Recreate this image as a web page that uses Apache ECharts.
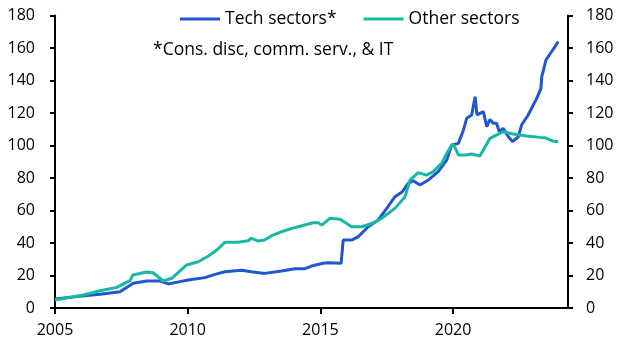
<!DOCTYPE html>
<html>
<head>
<meta charset="utf-8">
<script src="https://cdn.jsdelivr.net/npm/echarts@6/dist/echarts.min.js"></script>
<style>
  html, body { margin: 0; padding: 0; background: #fff; }
  #chart { width: 627px; height: 354px; }
</style>
</head>
<body>
<div id="chart"></div>
<script>
// x values are decimal years
const techYears = [
  2005.0, 2005.8, 2006.7, 2007.45, 2007.95, 2008.45, 2008.96, 2009.27, 2009.52, 2010.02,
  2010.65, 2011.03, 2011.4, 2012.03, 2012.4, 2012.9, 2013.54, 2014.04, 2014.42, 2014.67,
  2015.1, 2015.3, 2015.78, 2015.86, 2016.18, 2016.43, 2016.8, 2017.18, 2017.5, 2017.81,
  2018.09, 2018.31, 2018.5, 2018.75, 2019.07, 2019.44, 2019.76, 2019.95, 2020.2, 2020.39,
  2020.51, 2020.7, 2020.83, 2020.9, 2021.14, 2021.27, 2021.39, 2021.51, 2021.64, 2021.74,
  2021.89, 2022.08, 2022.24, 2022.46, 2022.58, 2022.83, 2023.15, 2023.31, 2023.34, 2023.5,
  2023.65, 2023.84, 2023.96
];
const techValues = [
  5.5, 7, 8.4, 10, 15.2, 16.6, 16.6, 14.8, 15.6, 17.2,
  18.7, 20.7, 22.3, 23.2, 22.3, 21.3, 22.8, 24.2, 24.2, 25.8,
  27.5, 27.9, 27.5, 41.8, 41.8, 43.9, 50, 54.2, 61.3, 68.5,
  71.6, 76.7, 78.3, 75.7, 78.8, 83.9, 91, 100.3, 101.3, 109.5,
  116.7, 118.8, 130, 118.8, 120.8, 111.6, 116.1, 113.7, 113.7, 108.5,
  110.6, 105.4, 102.4, 105.4, 112.6, 118.8, 129, 135.2, 142.3, 152.6,
  156.3, 160.8, 163.9
];

const otherYears = [
  2005.0, 2006.07, 2006.7, 2007.32, 2007.83, 2007.93, 2008.45, 2008.7, 2009.08, 2009.4,
  2009.96, 2010.4, 2010.78, 2011.1, 2011.4, 2011.9, 2012.28, 2012.4, 2012.66, 2012.9,
  2013.16, 2013.48, 2013.92, 2014.3, 2014.73, 2014.92, 2015.05, 2015.36, 2015.74, 2016.18,
  2016.56, 2016.93, 2017.31, 2017.81, 2018.19, 2018.38, 2018.69, 2019.0, 2019.25, 2019.57,
  2019.76, 2019.95, 2020.03, 2020.2, 2020.51, 2020.7, 2021.01, 2021.39, 2021.89, 2022.27,
  2022.77, 2023.27, 2023.46, 2023.65, 2023.84, 2023.96
];
const otherValues = [
  4.9, 8, 10.6, 12.7, 16.8, 20.3, 22.2, 21.7, 16.6, 18.3,
  26.5, 28.5, 32, 35.7, 40.4, 40.4, 41.4, 42.9, 41.2, 41.8,
  44.5, 46.6, 49, 50.6, 52.5, 52.5, 51, 55.2, 54.6, 50,
  50, 52, 55.2, 61.3, 68.5, 78.8, 83.3, 81.8, 83.9, 89,
  95.2, 100.3, 100.3, 94.2, 94.2, 94.8, 93.5, 104.4, 108.5, 107.1,
  105.8, 105, 104.8, 103.4, 102.4, 102.4
];

const yearTicks = [2005, 2010, 2015, 2020];
const seriesNames = ['Tech sectors*', 'Other sectors'];
const footnote = '*Cons. disc, comm. serv., & IT';

const font = '"Open Sans", "Noto Sans", sans-serif';
const blue = '#2156cf';
const teal = '#17b8a4';

function pairs(xs, ys) {
  return xs.map((x, i) => [x, ys[i]]);
}

function yAxis(pos, margin) {
  return {
    type: 'value',
    position: pos,
    min: 0,
    max: 180,
    interval: 20,
    axisLine: { show: true, lineStyle: { color: '#000', width: 2 } },
    axisTick: { show: true, length: 5, lineStyle: { color: '#000', width: 2 } },
    axisLabel: { color: '#000', fontSize: 16, fontFamily: font, margin: margin },
    splitLine: { show: false }
  };
}

const chart = echarts.init(document.getElementById('chart'));

const option = {
  animation: false,
  grid: { left: 55, right: 59, top: 15.5, bottom: 46 },
  legend: {
    left: 180,
    top: 10,
    padding: 0,
    itemWidth: 40,
    itemHeight: 3,
    itemGap: 27,
    icon: 'rect',
    textStyle: { color: '#000', fontSize: 17.5, fontFamily: font },
    data: seriesNames
  },
  graphic: [{
    type: 'text',
    left: 153,
    top: 41,
    style: { text: footnote, fill: '#000', fontSize: 17.5, fontFamily: font }
  }],
  xAxis: {
    type: 'value',
    min: 2005,
    max: 2024.33,
    interval: 5,
    axisLine: { show: true, onZero: false, lineStyle: { color: '#000', width: 2 } },
    axisTick: { show: true, length: 6, customValues: yearTicks, lineStyle: { color: '#000', width: 2 } },
    axisLabel: {
      color: '#000', fontSize: 16, fontFamily: font, margin: 14,
      customValues: yearTicks,
      formatter: (v) => String(v)
    },
    splitLine: { show: false }
  },
  yAxis: [yAxis('left', 20), yAxis('right', 18)],
  series: [
    {
      name: seriesNames[0],
      type: 'line',
      showSymbol: false,
      data: pairs(techYears, techValues),
      itemStyle: { color: blue },
      lineStyle: { color: blue, width: 3 }
    },
    {
      name: seriesNames[1],
      type: 'line',
      showSymbol: false,
      data: pairs(otherYears, otherValues),
      itemStyle: { color: teal },
      lineStyle: { color: teal, width: 3 }
    }
  ]
};

chart.setOption(option);
</script>
</body>
</html>
